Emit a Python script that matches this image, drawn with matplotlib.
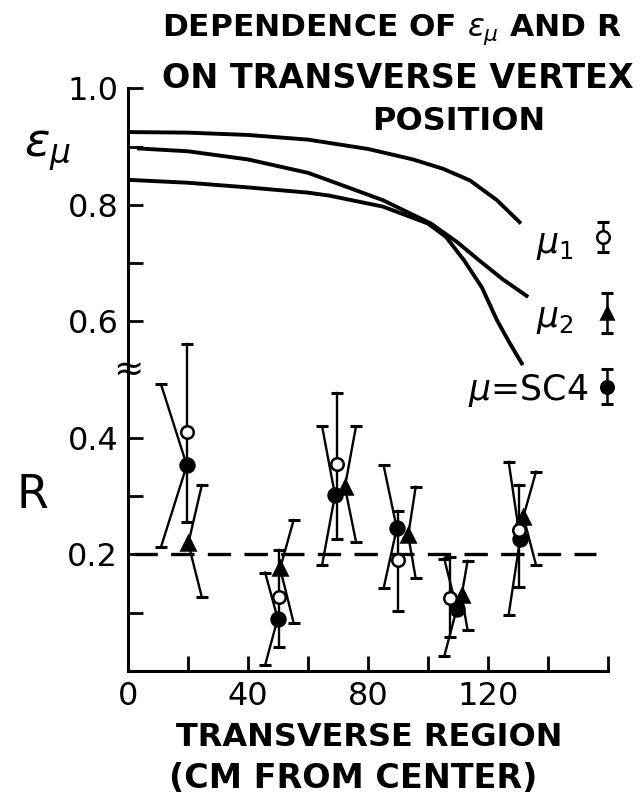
import numpy as np
import matplotlib.pyplot as plt

# efficiency curves eps_mu vs transverse region (cm)
mu1_x = [0, 20, 40, 60, 80, 95, 105, 114, 123, 131]
mu1_eps = [0.925, 0.924, 0.920, 0.912, 0.896, 0.878, 0.862, 0.842, 0.808, 0.768]
mu2_x = [3, 20, 40, 60, 67, 85, 101, 110, 117, 125, 133.4]
mu2_eps = [0.897, 0.892, 0.878, 0.855, 0.842, 0.808, 0.768, 0.735, 0.705, 0.672, 0.642]
sc4_x = [0, 20, 40, 60, 67, 85, 100, 106, 112, 118, 123, 127, 131.6]
sc4_eps = [0.843, 0.838, 0.830, 0.821, 0.816, 0.797, 0.768, 0.745, 0.705, 0.658, 0.602, 0.565, 0.525]

# R measurements (open circle = mu1, triangle = mu2, filled = SC4)
mu1_pos = [19.6, 50.3, 69.6, 90.1, 107.3, 130.4]
mu1_r = [0.410, 0.127, 0.356, 0.190, 0.125, 0.242]
mu1_hi = [0.151, 0.081, 0.121, 0.084, 0.071, 0.077]
mu1_lo = [0.154, 0.085, 0.130, 0.087, 0.066, 0.097]

mu2_pos = [20.1, 50.7, 72.3, 93.4, 111.2, 131.8]
mu2_r = [0.219, 0.176, 0.316, 0.233, 0.130, 0.265]
mu2_hi = [0.100, 0.083, 0.104, 0.083, 0.059, 0.077]
mu2_lo = [0.092, 0.093, 0.094, 0.074, 0.060, 0.083]

sc4_pos = [19.6, 49.9, 69.0, 89.6, 109.6, 130.7]
sc4_r = [0.353, 0.090, 0.302, 0.245, 0.107, 0.226]
sc4_hi = [0.139, 0.079, 0.118, 0.108, 0.086, 0.133]
sc4_lo = [0.140, 0.080, 0.120, 0.103, 0.082, 0.129]

# sideways lean of the drawn error bars (style only)
mu1_lean = [0, 0, 0, 0, 0, 0]
mu2_lean = [4.5, 4.5, 3.7, 2.5, 2.0, 4.2]
sc4_lean = [-8.6, -4.2, -4.3, -4.4, -4.2, -3.8]

r_expected = 0.2

fig = plt.figure(figsize=(6.41, 7.96), dpi=100)
ax = fig.add_axes([0.1997, 0.157, 0.7488, 0.732])
ax.set_xlim(0, 160)
ax.set_ylim(0, 1.0)

for s in ['top', 'right']:
    ax.spines[s].set_visible(False)
for s in ['left', 'bottom']:
    ax.spines[s].set_linewidth(2.2)

ax.set_xticks([0, 40, 80, 120])
ax.set_xticklabels(['0', '40', '80', '120'])
ax.set_xticks([20, 60, 100, 140, 160], minor=True)
ax.set_yticks([0.2, 0.4, 0.6, 0.8, 1.0])
ax.set_yticklabels(['0.2', '0.4', '0.6', '0.8', '1.0'])
ax.set_yticks([0.1, 0.3, 0.7, 0.9], minor=True)
ax.tick_params(which='both', direction='in', length=11, width=2, labelsize=23, pad=7)

# curves
for xs, ys in [(mu1_x, mu1_eps), (mu2_x, mu2_eps), (sc4_x, sc4_eps)]:
    ax.plot(xs, ys, color='k', lw=2.8, solid_capstyle='butt')

ax.plot([2, 156], [r_expected, r_expected], color='k', lw=2.4, dashes=(7, 4))


def draw_points(xs, rs, hi, lo, lean, marker, face, ms):
    for x, r, a, b, s in zip(xs, rs, hi, lo, lean):
        ax.plot([x + s, x, x + s], [r + a, r, r - b], color='k', lw=1.7, clip_on=False)
        ax.plot([x + s, x + s], [r + a, r - b], ls='none', marker='_', ms=9, mew=2.2,
                color='k', clip_on=False)
    ax.plot(xs, rs, ls='none', marker=marker, mfc=face, mec='k', ms=ms, mew=1.8,
            zorder=5, clip_on=False)


draw_points(mu2_pos, mu2_r, mu2_hi, mu2_lo, mu2_lean, '^', 'k', 10)
draw_points(sc4_pos, sc4_r, sc4_hi, sc4_lo, sc4_lean, 'o', 'k', 10)
draw_points(mu1_pos, mu1_r, mu1_hi, mu1_lo, mu1_lean, 'o', 'white', 9)

# key symbols on the right
key = [(158.3, 0.745, 0.026, 'o', 'white', r'$\mu_1$', 142.3, 0.731),
       (159.7, 0.614, 0.034, '^', 'k', r'$\mu_2$', 142.3, 0.605),
       (159.7, 0.488, 0.030, 'o', 'k', r'$\mu$=SC4', 133.3, 0.482)]
for kx, ky, ke, m, f, lab, tx, ty in key:
    ax.plot([kx, kx], [ky - ke, ky + ke], color='k', lw=1.8, marker='_', ms=9, mew=2.2,
            clip_on=False)
    ax.plot([kx], [ky], marker=m, mfc=f, mec='k', ms=9, mew=1.8, clip_on=False, zorder=5)
    ax.text(tx, ty, lab, fontsize=25, ha='center', va='center')

# axis break mark and side labels
ax.text(0, 0.515, '≈', fontsize=26, ha='center', va='center', clip_on=False)
ax.text(-26.7, 0.894, r'$\varepsilon_\mu$', fontsize=34, ha='center', va='center',
        clip_on=False)
ax.text(-31.7, 0.302, 'R', fontsize=33, ha='center', va='center', clip_on=False)

fig.text(0.611, 0.962, r'DEPENDENCE OF $\varepsilon_\mu$ AND R', fontsize=22.5,
         fontweight='bold', ha='center', va='center')
fig.text(0.620, 0.902, 'ON TRANSVERSE VERTEX', fontsize=24, fontweight='bold',
         ha='center', va='center')
fig.text(0.716, 0.847, 'POSITION', fontsize=23, fontweight='bold', ha='center',
         va='center')
fig.text(0.576, 0.0729, 'TRANSVERSE REGION', fontsize=23, fontweight='bold',
         ha='center', va='center')
fig.text(0.551, 0.0226, '(CM FROM CENTER)', fontsize=24, fontweight='bold',
         ha='center', va='center')

fig.savefig('out.png', dpi=100)
